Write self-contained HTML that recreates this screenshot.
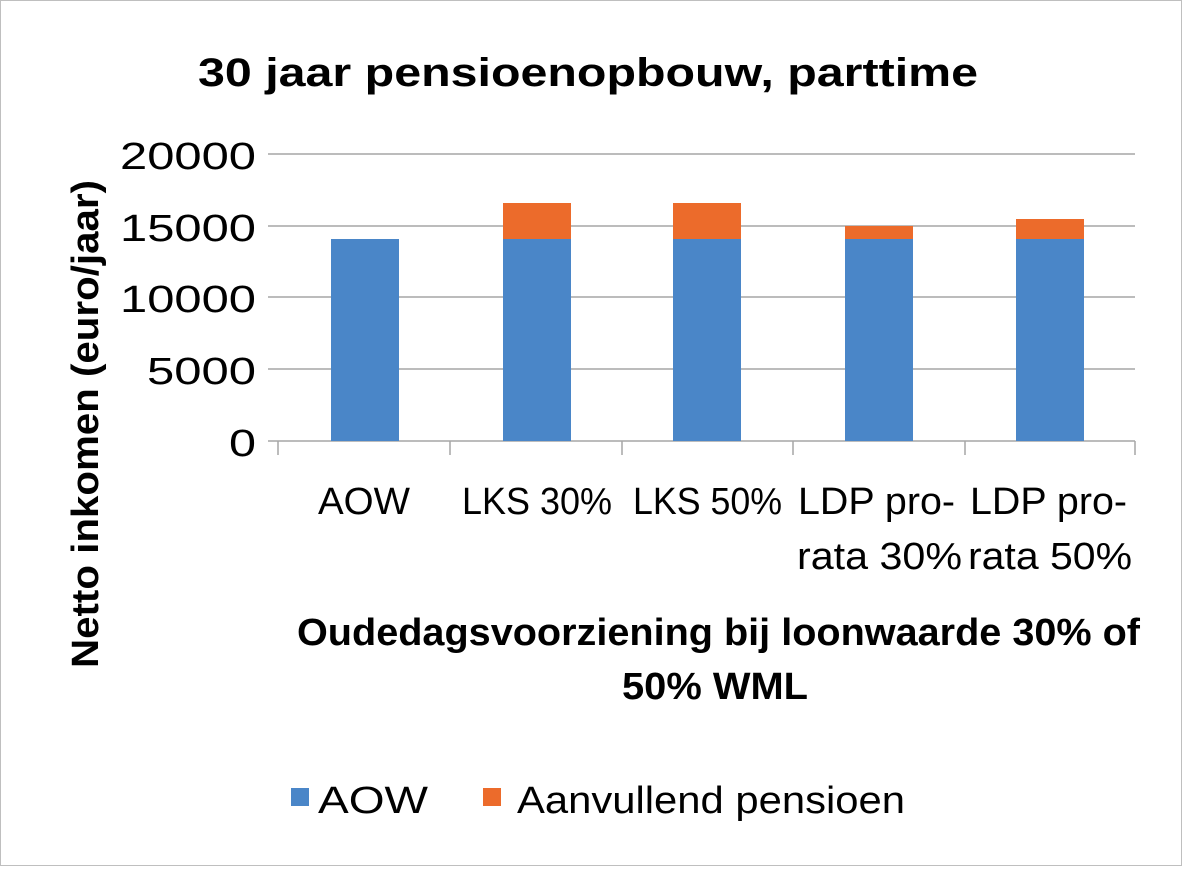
<!DOCTYPE html>
<html><head><style>
body{margin:0;background:#fff;}
svg text{font-family:"Liberation Sans",sans-serif;fill:#000;}
</style></head><body>
<svg width="1182" height="866" xmlns="http://www.w3.org/2000/svg">
<rect x="0.5" y="0.5" width="1181" height="865" fill="#fff" stroke="#bfbfbf"/>
<text x="198" y="86" font-size="40" font-weight="bold" textLength="780" lengthAdjust="spacingAndGlyphs">30 jaar pensioenopbouw,  parttime</text>
<g stroke="#a6a6a6" stroke-width="1.5">
<line x1="268" y1="154" x2="1135" y2="154"/>
<line x1="268" y1="226" x2="1135" y2="226"/>
<line x1="268" y1="297" x2="1135" y2="297"/>
<line x1="268" y1="369" x2="1135" y2="369"/>
<line x1="268" y1="441" x2="1135" y2="441"/>
<line x1="278" y1="441" x2="278" y2="455"/>
<line x1="450" y1="441" x2="450" y2="455"/>
<line x1="622" y1="441" x2="622" y2="455"/>
<line x1="793" y1="441" x2="793" y2="455"/>
<line x1="965" y1="441" x2="965" y2="455"/>
<line x1="1135" y1="441" x2="1135" y2="455"/>
</g>
<g font-size="38">
<text x="120" y="169" textLength="136" lengthAdjust="spacingAndGlyphs">20000</text>
<text x="120" y="241" textLength="136" lengthAdjust="spacingAndGlyphs">15000</text>
<text x="120" y="312" textLength="136" lengthAdjust="spacingAndGlyphs">10000</text>
<text x="147" y="384" textLength="109" lengthAdjust="spacingAndGlyphs">5000</text>
<text x="229" y="456" textLength="27" lengthAdjust="spacingAndGlyphs">0</text>
</g>
<g fill="#4a86c8">
<rect x="331" y="239" width="68" height="202"/>
<rect x="503" y="239" width="68" height="202"/>
<rect x="673" y="239" width="68" height="202"/>
<rect x="845" y="239" width="68" height="202"/>
<rect x="1016" y="239" width="68" height="202"/>
</g>
<g fill="#ec6b2b">
<rect x="503" y="203" width="68" height="36"/>
<rect x="673" y="203" width="68" height="36"/>
<rect x="845" y="226" width="68" height="13"/>
<rect x="1016" y="219" width="68" height="20"/>
</g>
<g font-size="38">
<text x="318" y="514" textLength="92" lengthAdjust="spacingAndGlyphs">AOW</text>
<text x="462" y="514" textLength="150" lengthAdjust="spacingAndGlyphs">LKS 30%</text>
<text x="633" y="514" textLength="149" lengthAdjust="spacingAndGlyphs">LKS 50%</text>
<text x="798" y="514" textLength="157" lengthAdjust="spacingAndGlyphs">LDP pro-</text>
<text x="797" y="569" textLength="165" lengthAdjust="spacingAndGlyphs">rata 30%</text>
<text x="970" y="514" textLength="157" lengthAdjust="spacingAndGlyphs">LDP pro-</text>
<text x="968" y="569" textLength="164" lengthAdjust="spacingAndGlyphs">rata 50%</text>
</g>
<g font-size="38" font-weight="bold">
<text x="297" y="645" textLength="843" lengthAdjust="spacingAndGlyphs">Oudedagsvoorziening bij loonwaarde  30% of</text>
<text x="622" y="699" textLength="186" lengthAdjust="spacingAndGlyphs">50% WML</text>
<text transform="translate(98,668) rotate(-90)" textLength="488" lengthAdjust="spacingAndGlyphs">Netto inkomen (euro/jaar)</text>
</g>
<rect x="291" y="788" width="18" height="18" fill="#4a86c8"/>
<text x="318" y="813" font-size="38" textLength="110" lengthAdjust="spacingAndGlyphs">AOW</text>
<rect x="483" y="788" width="18" height="18" fill="#ec6b2b"/>
<text x="517" y="813" font-size="38" textLength="388" lengthAdjust="spacingAndGlyphs">Aanvullend pensioen</text>
</svg>
</body></html>
